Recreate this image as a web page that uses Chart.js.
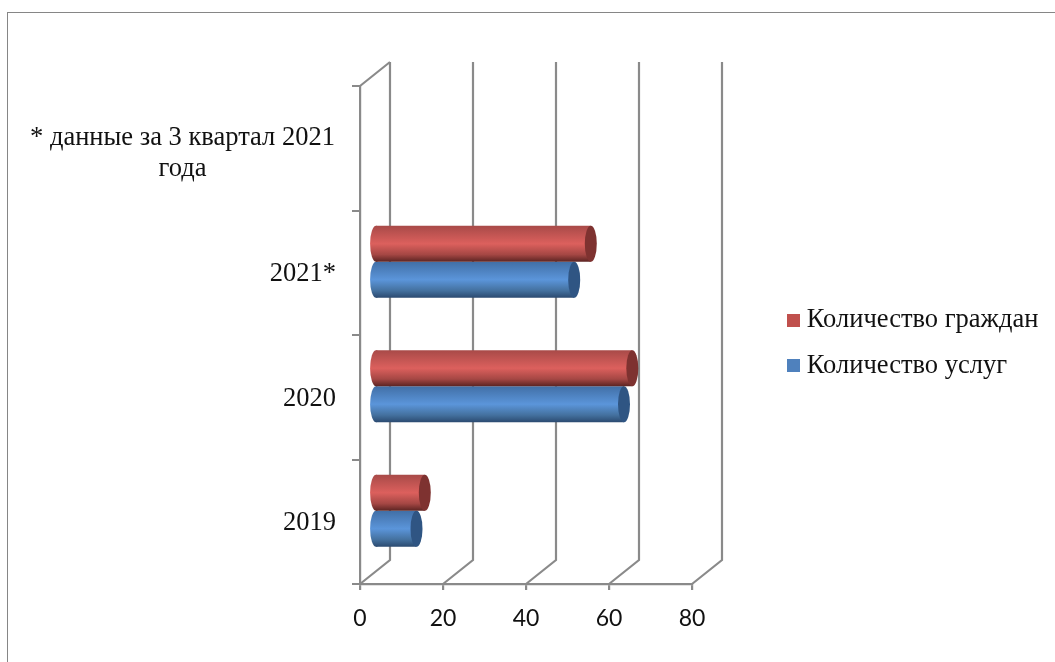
<!DOCTYPE html>
<html>
<head>
<meta charset="utf-8">
<title>Количество услуг и граждан</title>
<style type="text/css">
html, body { margin: 0; padding: 0; background: #fff; }
#wrap { position: relative; width: 1055px; height: 662px; overflow: hidden; }
#frame { position: absolute; left: 7px; top: 12px; width: 1060px; height: 660px;
	border: solid #868686; border-width: 1.5px 0 0 1.5px; }
</style>
<script src="https://cdn.jsdelivr.net/npm/chart.js"></script>
</head>
<body>
<div id="wrap">
<div id="frame"></div>
<canvas id="myChart" width="1055" height="662" style="position:relative"></canvas>
</div>
<script>
// top to bottom, the first category is only a footnote with no bars
const categories = [['* данные за 3 квартал 2021', 'года'], '2021*', '2020', '2019'];
const citizens = [null, 52, 62, 12];
const services = [null, 48, 60, 10];
const xTicks = [0, 20, 40, 60, 80];

const GREY = '#8a8a8a';
const DX = 15, DY = -11;   // bars sit mid-depth of the fake 3d box
const WALL_DX = 30, WALL_DY = -24;
const CAP_RX = 6;

const shades = {
	red: { stops: ['#a84a48', '#dc605d', '#a54744', '#5c2422'], cap: '#7e3230', legend: '#c0504d' },
	blue: { stops: ['#416fa6', '#5b95da', '#44719f', '#2b4a70'], cap: '#2f5583', legend: '#4f81bd' }
};

function legendSquare(color)
{
	const c = document.createElement('canvas');
	c.width = 13;
	c.height = 13;
	const g = c.getContext('2d');
	g.fillStyle = color;
	g.fillRect(0, 0, 13, 13);
	return c;
}

const wallPlugin = {
	id: 'wall',
	beforeDatasetsDraw(chart) {
		const ctx = chart.ctx, x = chart.scales.x, a = chart.chartArea;
		ctx.save();
		ctx.strokeStyle = GREY;
		ctx.lineWidth = 2.2;
		ctx.beginPath();
		xTicks.forEach((t) => {
			const px = x.getPixelForValue(t);
			ctx.moveTo(px, a.bottom);
			ctx.lineTo(px + WALL_DX, a.bottom + WALL_DY);
			ctx.lineTo(px + WALL_DX, a.top + WALL_DY);
		});
		// top edge of the side wall
		ctx.moveTo(a.left, a.top);
		ctx.lineTo(a.left + WALL_DX, a.top + WALL_DY);
		ctx.stroke();
		ctx.restore();
	}
};

const cylinderPlugin = {
	id: 'cylinder',
	beforeDatasetDraw(chart, args) {
		const ctx = chart.ctx, meta = args.meta;
		const shade = chart.data.datasets[args.index].shade;
		ctx.save();
		ctx.translate(DX, DY);
		meta.data.forEach((el, i) => {
			if (chart.data.datasets[args.index].data[i] === null) return;
			const h = el.height, top = el.y - h / 2;
			const grad = ctx.createLinearGradient(0, top, 0, top + h);
			shade.stops.forEach((c, k) => grad.addColorStop([0, 0.5, 0.8, 1][k], c));
			el.options = Object.assign({}, el.options, { backgroundColor: grad });
			// round start of the cylinder
			ctx.fillStyle = grad;
			ctx.beginPath();
			ctx.ellipse(el.base, el.y, CAP_RX, h / 2, 0, 0, Math.PI * 2);
			ctx.fill();
		});
	},
	afterDatasetDraw(chart, args) {
		const ctx = chart.ctx, meta = args.meta;
		const shade = chart.data.datasets[args.index].shade;
		meta.data.forEach((el, i) => {
			if (chart.data.datasets[args.index].data[i] === null) return;
			ctx.fillStyle = shade.cap;
			ctx.beginPath();
			ctx.ellipse(el.x, el.y, CAP_RX, el.height / 2, 0, 0, Math.PI * 2);
			ctx.fill();
		});
		ctx.restore();
	}
};

const placePlugin = {
	id: 'place',
	afterLayout(chart) {
		// legend sits right of the box, away from the plot area
		const l = chart.legend;
		const w = l.width, h = l.height;
		l.left = 792.5 - l.options.labels.padding;
		l.right = l.left + w;
		l.top = 307 - l.options.labels.padding;
		l.bottom = l.top + h;
	},
	afterDraw(chart) {
		// footnote is centred on its two lines, the tick labels are not
		const ctx = chart.ctx, y = chart.scales.y;
		const c = y.getPixelForValue(0);
		ctx.save();
		ctx.font = '26.5px "Liberation Serif"';
		ctx.fillStyle = '#111';
		ctx.textAlign = 'center';
		ctx.textBaseline = 'middle';
		categories[0].forEach((line, i) => ctx.fillText(line, 182.5, c - 10 + i * 31));
		ctx.restore();
	}
};

new Chart(document.getElementById('myChart'), {
	type: 'bar',
	data: {
		labels: categories,
		datasets: [
			{ label: 'Количество граждан', data: citizens, shade: shades.red, backgroundColor: shades.red.legend,
				pointStyle: legendSquare(shades.red.legend), clip: false },
			{ label: 'Количество услуг', data: services, shade: shades.blue, backgroundColor: shades.blue.legend,
				pointStyle: legendSquare(shades.blue.legend), clip: false }
		]
	},
	options: {
		indexAxis: 'y',
		responsive: false,
		animation: false,
		layout: { padding: { top: 86, right: 363, left: 0, bottom: 0 } },
		categoryPercentage: 0.578,
		barPercentage: 1,
		scales: {
			x: {
				min: 0,
				max: 80,
				afterBuildTicks(scale) { scale.ticks = xTicks.map((v) => ({ value: v })); },
				afterFit(scale) { scale.height = 78; },
				grid: { drawOnChartArea: false, color: GREY, lineWidth: 2.2, tickLength: 6 },
				border: { color: GREY, width: 2.2 },
				ticks: { color: '#111', font: { family: 'Lato', size: 23 }, padding: 15, maxRotation: 0 }
			},
			y: {
				afterFit(scale) { scale.width = 360; },
				grid: { drawOnChartArea: false, color: GREY, lineWidth: 2, tickLength: 8 },
				border: { color: GREY, width: 2.2 },
				ticks: {
					color: '#111',
					font: { family: 'Liberation Serif', size: 26.5 },
					padding: 16,
					labelOffset: 1.5,
					callback(v, i) { return i === 0 ? '' : categories[i]; }
				}
			}
		},
		plugins: {
			tooltip: { enabled: false },
			legend: {
				position: 'chartArea',
				align: 'start',
				labels: {
					usePointStyle: true,
					pointStyleWidth: 1,
					boxHeight: 13,
					padding: 19,
					color: '#111',
					font: { family: 'Liberation Serif', size: 26.5 }
				}
			}
		}
	},
	plugins: [wallPlugin, cylinderPlugin, placePlugin]
});
</script>
</body>
</html>
